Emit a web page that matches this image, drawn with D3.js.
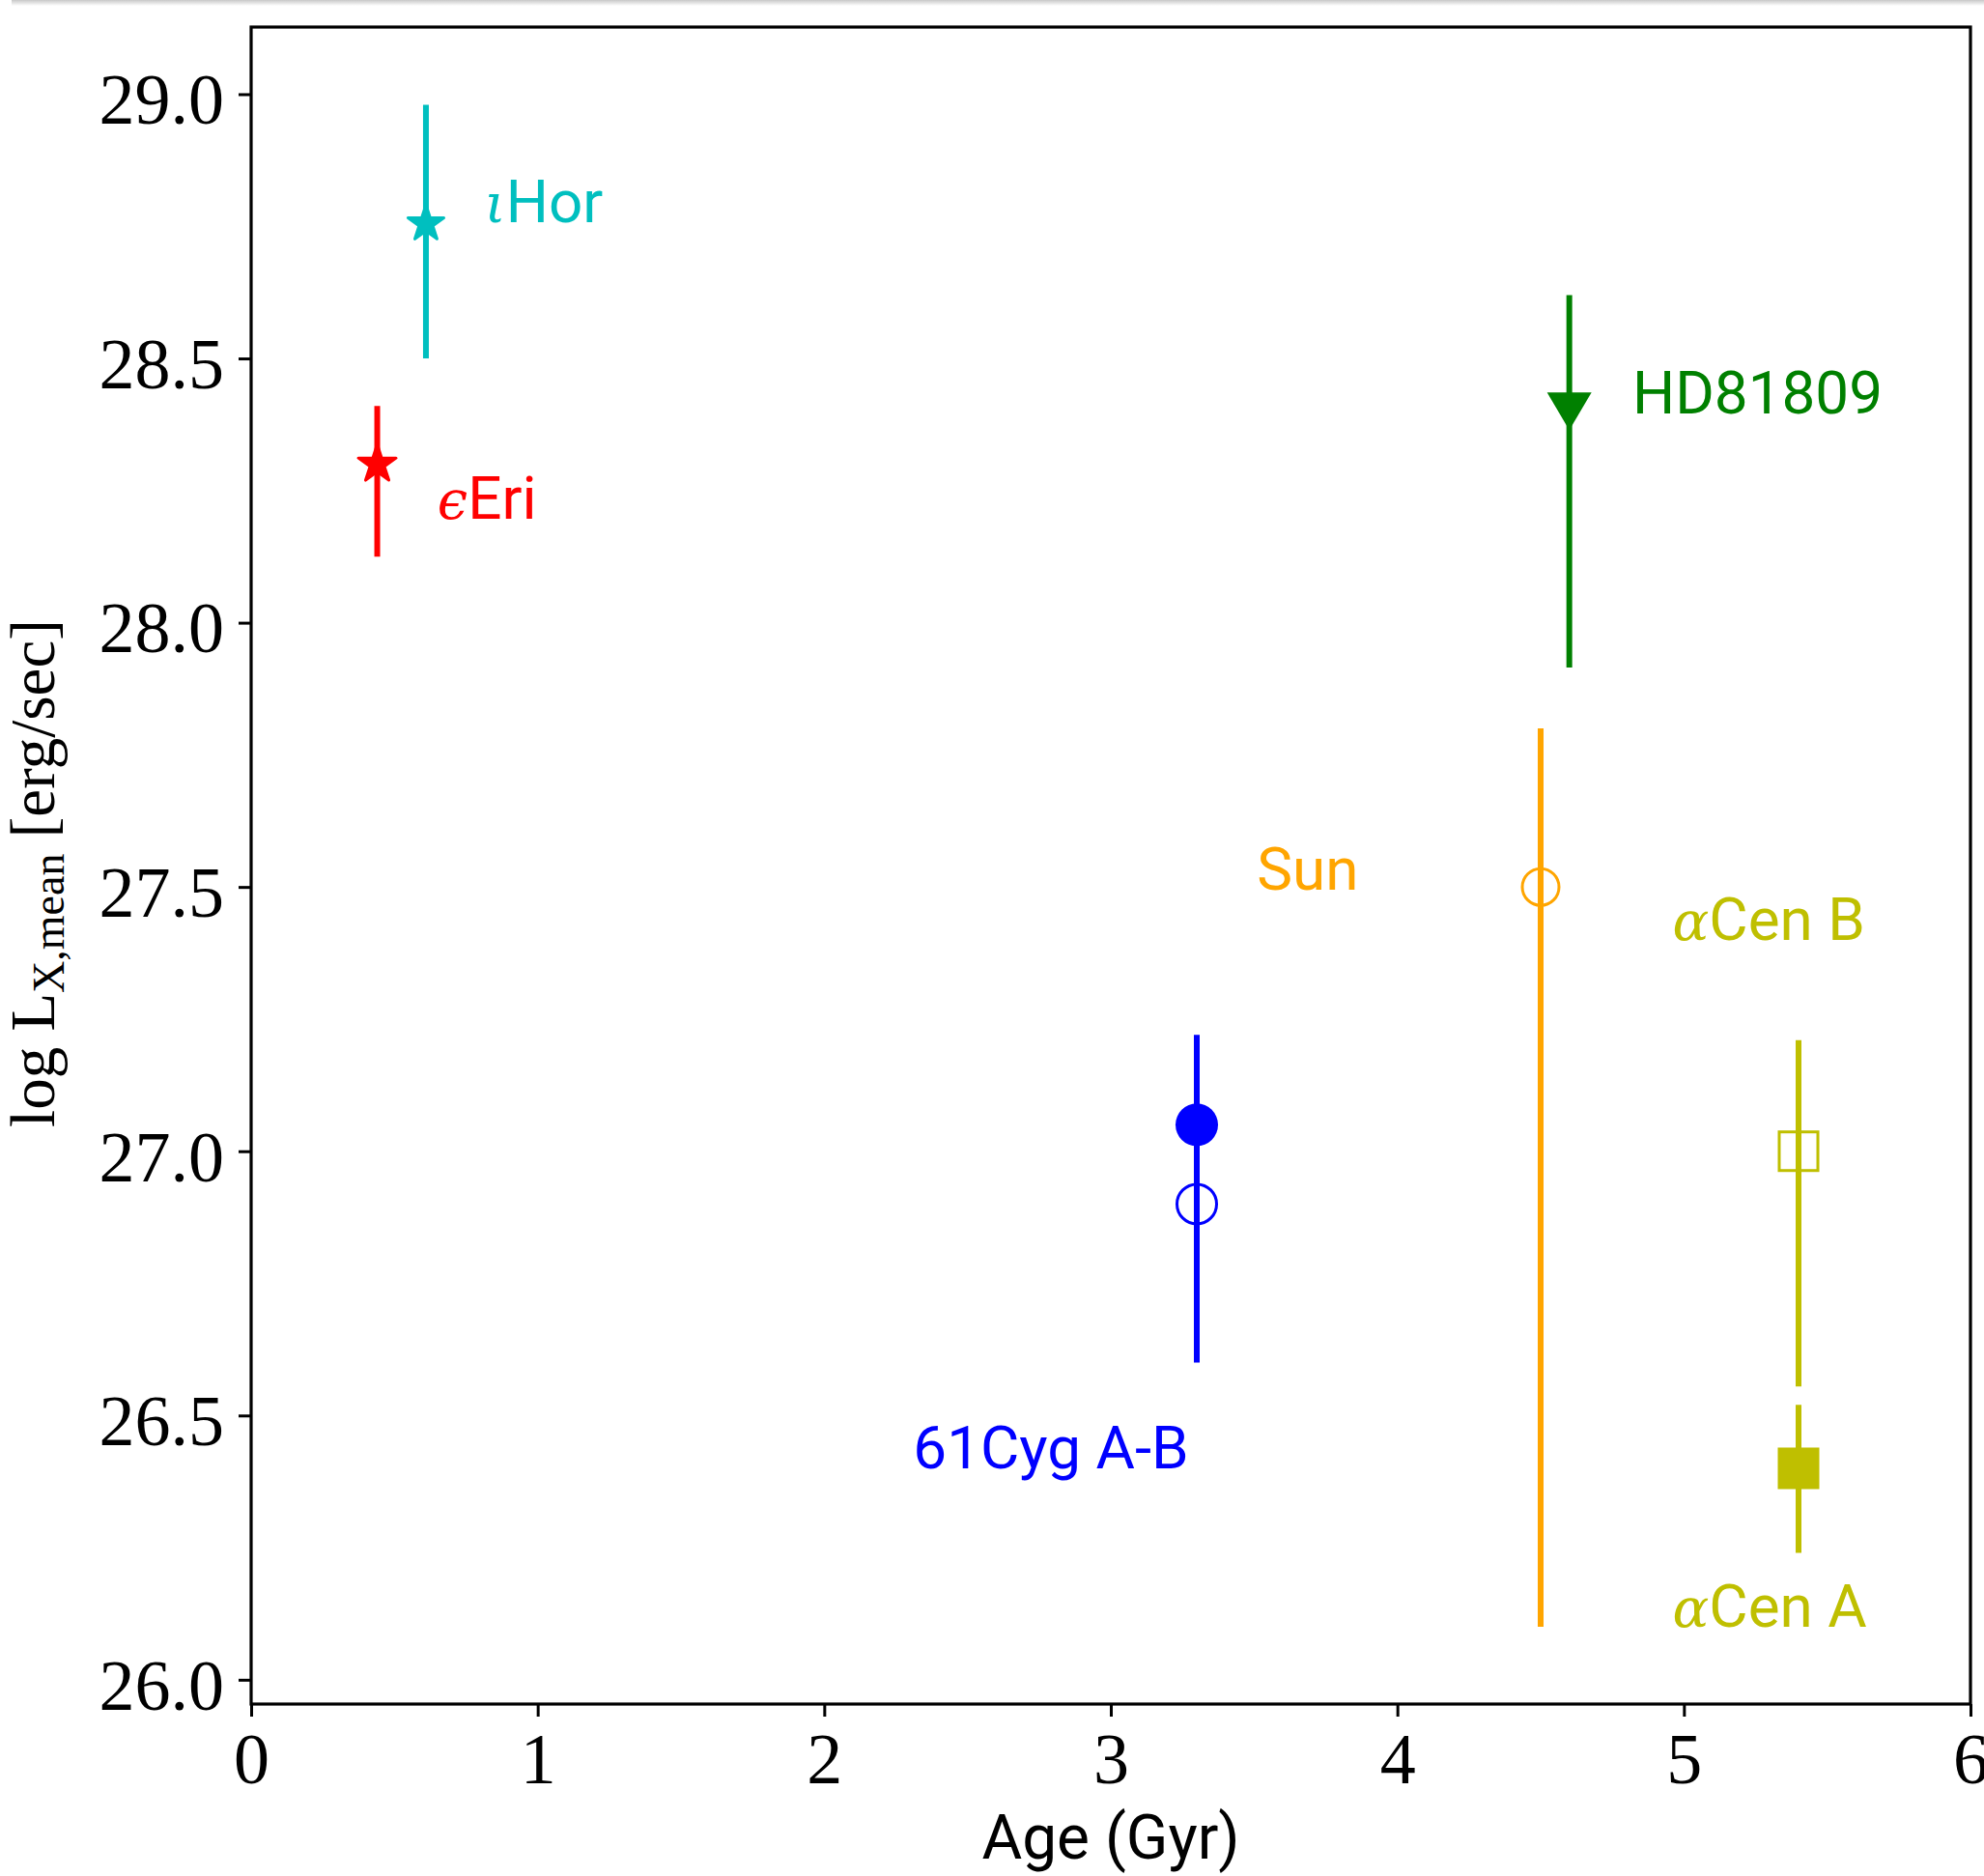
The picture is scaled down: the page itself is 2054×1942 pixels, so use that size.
<!DOCTYPE html>
<html>
<head>
<script src="https://d3js.org/d3.v7.min.js"></script>
<style>
  body { margin: 0; background: #fff; }
</style>
</head>
<body>
<script>
	var width = 2054;
	var height = 1942;
	var margin = {left: 260, right: 14, top: 28, bottom: 178};

	// data: one entry per star
	var stars  = ["eps Eri", "iota Hor", "61Cyg A", "61Cyg B", "Sun", "HD81809", "alpha Cen A", "alpha Cen B"]
	var ages   = [0.44, 0.61, 3.3, 3.3, 4.5, 4.6, 5.4, 5.4]
	var logLx  = [28.30, 28.755, 27.05, 26.90, 27.50, 28.40, 26.40, 27.00]
	var errLo  = [28.125, 28.50, 26.88, 26.60, 26.10, 27.915, 26.24, 26.555]
	var errHi  = [28.41, 28.98, 27.22, 27.10, 27.80, 28.62, 26.52, 27.21]

	// text annotations (data coordinates)
	var labelGreek = ["\u03F5", "\u03B9", "", "", "\u03B1", "\u03B1"]
	var labelText  = ["Eri", "Hor", "61Cyg A-B", "Sun", "HD81809", "Cen A", "Cen B"]
	var labelAge   = [0.65, 0.815, 2.31, 3.51, 4.82, 4.96, 4.96]
	var labelLx    = [28.197, 28.757, 26.40, 27.495, 28.395, 26.10, 27.40]

	var xTicks = [0, 1, 2, 3, 4, 5, 6]
	var yTicks = [26.0, 26.5, 27.0, 27.5, 28.0, 28.5, 29.0]

	// styles
	var markerStyle = {
		"eps Eri":     {shape: "star",   color: "#ff0000", fill: true,  r: 20.5},
		"iota Hor":    {shape: "star",   color: "#00bfbf", fill: true,  r: 19.5},
		"61Cyg A":     {shape: "circle", color: "#0000ff", fill: true,  r: 22},
		"61Cyg B":     {shape: "circle", color: "#0000ff", fill: false, r: 20.5},
		"Sun":         {shape: "circle", color: "#ffa500", fill: false, r: 19},
		"HD81809":     {shape: "tri",    color: "#008000", fill: true,  r: 23},
		"alpha Cen A": {shape: "square", color: "#bfbf00", fill: true,  r: 21.5},
		"alpha Cen B": {shape: "square", color: "#bfbf00", fill: false, r: 20}
	}
	var labelColors = ["#ff0000", "#00bfbf", "#0000ff", "#ffa500", "#008000", "#bfbf00", "#bfbf00"]
	var labelGreekIdx = [0, 1, -1, -1, -1, 4, 5]

	var svg = d3.select("body")
		.append("svg")
		.attr("width", width)
		.attr("height", height)
		.style("display", "block")

	// faint shadow along the top edge
	var defs = svg.append("defs")
	var grad = defs.append("linearGradient").attr("id", "topShade")
		.attr("x1", 0).attr("y1", 0).attr("x2", 0).attr("y2", 1)
	grad.append("stop").attr("offset", 0).attr("stop-color", "#c8c8c8")
	grad.append("stop").attr("offset", 1).attr("stop-color", "#ffffff")
	svg.append("rect").attr("x", 12).attr("y", 0).attr("width", width - 12).attr("height", 6)
		.attr("fill", "url(#topShade)")

	var xScale = d3.scaleLinear()
		.domain([0, 6])
		.range([margin.left, width - margin.right])

	var yScale = d3.scaleLinear()
		.domain([25.954, 29.127])
		.range([height - margin.bottom, margin.top])

	// axes
	var xAxis = svg.append("g")
		.attr("transform", "translate(0," + (height - margin.bottom) + ")")
		.call(d3.axisBottom(xScale).tickValues(xTicks).tickFormat(d3.format("d"))
			.tickSize(13).tickSizeOuter(0).tickPadding(16))
	var yAxis = svg.append("g")
		.attr("transform", "translate(" + margin.left + ",0)")
		.call(d3.axisLeft(yScale).tickValues(yTicks).tickFormat(d3.format(".1f"))
			.tickSize(13).tickSizeOuter(0).tickPadding(15))

	svg.selectAll(".domain").remove()
	svg.selectAll(".tick line").attr("stroke", "#000").attr("stroke-width", 3)
	svg.selectAll(".tick text")
		.attr("fill", "#000")
		.style("font-family", "'Liberation Serif', 'DejaVu Serif', serif")
		.style("font-size", "74px")
	yAxis.selectAll(".tick text").attr("dy", "0.41em")

	// frame
	svg.append("rect")
		.attr("x", xScale(0))
		.attr("y", yScale(29.127))
		.attr("width", xScale(6) - xScale(0))
		.attr("height", yScale(25.954) - yScale(29.127))
		.attr("fill", "none")
		.attr("stroke", "#000")
		.attr("stroke-width", 3.2)

	// error bars + markers
	var starPath = function(r) {
		return d3.symbol().type(d3.symbolStar).size(r * r / 0.8908130915292852)()
	}
	var triPath = function(r) {
		return d3.line()([[-r, -r * 0.85], [r, -r * 0.85], [0, r * 0.85]]) + "Z"
	}

	stars.forEach(function(name, i) {
		var st = markerStyle[name]
		var cx = xScale(ages[i]), cy = yScale(logLx[i])
		var g = svg.append("g")

		g.append("line")
			.attr("x1", cx).attr("x2", cx)
			.attr("y1", yScale(errLo[i])).attr("y2", yScale(errHi[i]))
			.attr("stroke", st.color)
			.attr("stroke-width", 6)

		var fill = st.fill ? st.color : "none"
		var sw = st.fill ? 0 : 3
		if (st.shape == "circle") {
			g.append("circle").attr("cx", cx).attr("cy", cy).attr("r", st.r)
				.attr("fill", fill).attr("stroke", st.color).attr("stroke-width", sw)
		} else if (st.shape == "square") {
			g.append("rect").attr("x", cx - st.r).attr("y", cy - st.r)
				.attr("width", 2 * st.r).attr("height", 2 * st.r)
				.attr("fill", fill).attr("stroke", st.color).attr("stroke-width", sw)
		} else if (st.shape == "star") {
			g.append("path").attr("d", starPath(st.r))
				.attr("transform", "translate(" + cx + "," + cy + ")")
				.attr("fill", fill)
				.attr("stroke", st.color).attr("stroke-width", 3)
				.attr("stroke-linejoin", "round")
		} else if (st.shape == "tri") {
			g.append("path").attr("d", triPath(st.r))
				.attr("transform", "translate(" + cx + "," + cy + ")")
				.attr("fill", fill)
		}
	})

	// star names
	labelText.forEach(function(t, i) {
		var txt = svg.append("text")
			.attr("x", xScale(labelAge[i]))
			.attr("y", yScale(labelLx[i]))
			.attr("fill", labelColors[i])
			.style("font-family", "Roboto, 'Liberation Sans', sans-serif")
			.style("font-size", "62px")
		var gi = labelGreekIdx[i]
		if (gi >= 0) {
			txt.append("tspan")
				.style("font-family", "'DejaVu Serif', 'Liberation Serif', serif")
				.style("font-style", "italic")
				.style("font-size", "56px")
				.text(labelGreek[gi])
		}
		txt.append("tspan").text(t)
	})

	// axis titles
	svg.append("text")
		.attr("x", xScale(3))
		.attr("y", 1924)
		.attr("text-anchor", "middle")
		.style("font-family", "Roboto, 'Liberation Sans', sans-serif")
		.style("font-size", "64px")
		.text("Age (Gyr)")

	var yl = svg.append("text")
		.attr("transform", "translate(56,904) rotate(-90)")
		.attr("text-anchor", "middle")
		.style("font-family", "'Liberation Serif', 'DejaVu Serif', serif")
		.style("font-size", "65px")
	yl.append("tspan").text("log L")
	yl.append("tspan").attr("dy", 10).style("font-size", "46px").text("X,mean")
	yl.append("tspan").attr("dy", -10).text(" [erg/sec]")
</script>
</body>
</html>
